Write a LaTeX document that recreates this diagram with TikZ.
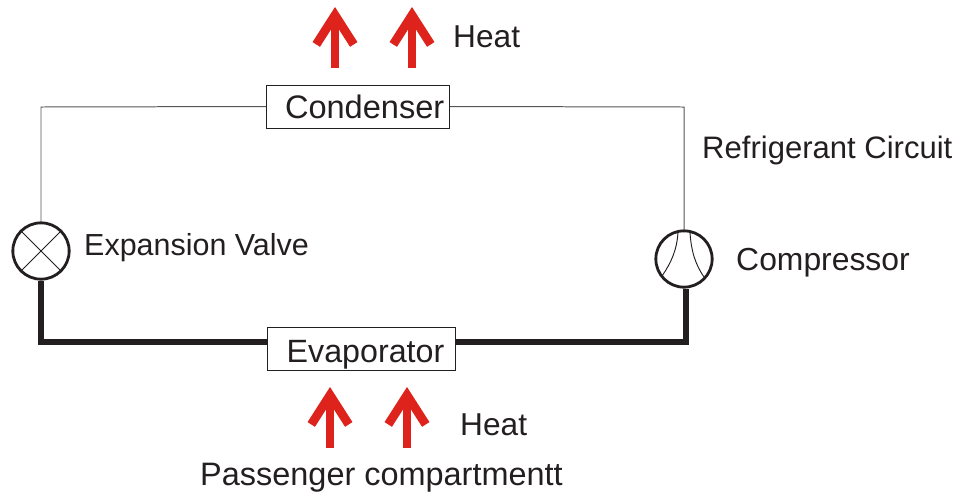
\documentclass[tikz,border=0pt]{standalone}
\usepackage{fontspec}
\setmainfont{Liberation Sans}
\usepackage{xcolor}
\definecolor{pipeblack}{RGB}{35,31,32}
\definecolor{pipegray}{RGB}{85,85,85}
\definecolor{heatred}{RGB}{221,35,27}
\usetikzlibrary{arrows.meta}

\begin{document}
\begin{tikzpicture}[x=0.03cm,y=-0.03cm,
  label/.style={anchor=west,inner sep=0pt,text=pipeblack,font=\fontsize{#1}{30}\selectfont},
  label/.default=26.5,
  box/.style={draw=pipeblack,fill=white,line width=0.6pt,inner sep=0pt,text=pipeblack,font=\fontsize{#1}{30}\selectfont},
  symbol/.style={circle,draw=pipeblack,fill=white,line width=2.4pt,minimum size=1.69cm,inner sep=0pt},
  thinpipe/.style={draw=pipegray,line width=0.85pt},
  thickpipe/.style={draw=pipeblack,line width=5pt},
  inner line/.style={draw=pipeblack,line width=0.8pt},
  heat/.style={draw=heatred,line width=6.8pt,-{Straight Barb[length=25pt,width=32pt,line width=7.5pt,sharp]}}
]
\useasboundingbox (0,0) rectangle (958,492);
% circuit
\coordinate (corner tl) at (41,107);
\coordinate (corner tr) at (684,107);
\coordinate (corner bl) at (41,342);
\coordinate (corner br) at (686,342);
\node[symbol] (valve) at (41,251) {};
\node[symbol] (compressor) at (684,259) {};
\node[box=27.8,minimum width=5.49cm,minimum height=1.29cm] (condenser) at (358,106.5) {\hspace{0.4cm}Condenser};
\node[box=27.5,minimum width=5.64cm,minimum height=1.29cm,text height=30.5pt,text depth=6pt] (evaporator) at (361,348.5) {\hspace{0.27cm}Evaporator};

\draw[thinpipe] (valve.north) -- (corner tl) -- (condenser.west);
\draw[thinpipe] (condenser.east) -- (corner tr) -- (compressor.north);
\draw[thickpipe] (valve.south) -- (corner bl) -- (corner bl -| evaporator.west);
\draw[thickpipe] (compressor.south -| corner br) -- (corner br) -- (corner br -| evaporator.east);

% symbols inside the circles
\draw[inner line] (valve.45) -- (valve.225);
\draw[inner line] (valve.135) -- (valve.315);
\draw[inner line] (678,232) .. controls (677,250) and (671,263) .. (662,276);
\draw[inner line] (690,232) .. controls (691,250) and (695,264) .. (704,277);

% heat arrows
\coordinate (top a) at (335,68);
\coordinate (top a end) at (335,7);
\coordinate (top b) at (412,68);
\coordinate (top b end) at (412,7);
\coordinate (bottom a) at (330,448);
\coordinate (bottom a end) at (330,387);
\coordinate (bottom b) at (407,448);
\coordinate (bottom b end) at (407,387);
\draw[heat] (top a) -- (top a end);
\draw[heat] (top b) -- (top b end);
\draw[heat] (bottom a) -- (bottom a end);
\draw[heat] (bottom b) -- (bottom b end);

% labels
\node[label=27] (heat top) at (453,36.5) {Heat};
\node[label=27] (heat bottom) at (460,425) {Heat};
\node[label=26.5] (circuit) at (702,150) {Refrigerant Circuit};
\node[label=27.2] (compressor text) at (736,263) {Compressor};
\node[label=26] (valve text) at (84,248) {Expansion Valve};
\node[label=27.7] (compartment) at (200,478) {Passenger compartmentt};
\end{tikzpicture}
\end{document}
